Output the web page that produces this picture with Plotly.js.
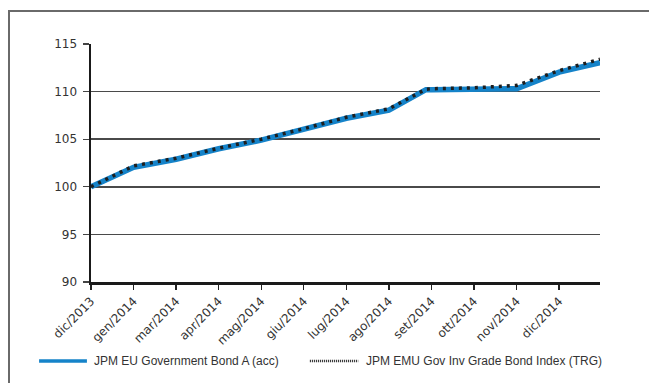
<!DOCTYPE html>
<html>
<head>
<meta charset="utf-8">
<script src="https://cdn.plot.ly/plotly-3.0.1.min.js"></script>
<style>
html,body{margin:0;padding:0;background:#fff;overflow:hidden;width:649px;height:383px;}
#frameTop{position:absolute;left:8px;top:10px;width:641px;height:2px;background:#6a6a6a;z-index:0;}
#frameLeft{position:absolute;left:8px;top:10px;width:2px;height:373px;background:#6a6a6a;z-index:0;}
#chart{position:absolute;left:0;top:0;width:649px;height:383px;z-index:1;}
</style>
</head>
<body>
<div id="frameTop"></div>
<div id="frameLeft"></div>
<div id="chart"></div>
<script>
// x positions measured in units of the labelled tick spacing (0 = dic/2013)
const xPos = [0, 1, 2, 3, 4, 5, 6, 7, 7.87, 8, 9, 10, 11, 11.96];
const fundValues = [100.0, 102.05, 102.9, 104.0, 104.9, 106.0, 107.2, 108.05, 110.2, 110.2, 110.25, 110.3, 112.05, 113.05];
const indexValues = [100.0, 102.2, 103.0, 104.05, 105.0, 106.1, 107.3, 108.2, 110.25, 110.3, 110.4, 110.65, 112.2, 113.4];
const tickPos = [0, 1, 2, 3, 4, 5, 6, 7, 8, 9, 10, 11];
const tickLabels = ['dic/2013', 'gen/2014', 'mar/2014', 'apr/2014', 'mag/2014', 'giu/2014', 'lug/2014', 'ago/2014', 'set/2014', 'ott/2014', 'nov/2014', 'dic/2014'];
const seriesNames = ['JPM EU Government Bond A (acc)', 'JPM EMU Gov Inv Grade Bond Index (TRG)'];
const seriesColors = ['#1583c9', '#1e1e1e'];

const traces = [
  {x: xPos, y: fundValues, name: seriesNames[0], type: 'scatter', mode: 'lines',
   line: {color: seriesColors[0], width: 5.5}},
  {x: xPos, y: indexValues, name: seriesNames[1], type: 'scatter', mode: 'lines',
   line: {color: seriesColors[1], width: 3.5, dash: '3px,5px'}}
];

// manual legend (paper coordinates)
const legY = -0.332;
const legendShapes = [
  {type: 'line', xref: 'paper', yref: 'paper', x0: -0.102, x1: -0.008, y0: legY, y1: legY,
   line: {color: seriesColors[0], width: 3.5}},
  {type: 'line', xref: 'paper', yref: 'paper', x0: 0.430, x1: 0.525, y0: legY, y1: legY,
   line: {color: seriesColors[1], width: 2.5, dash: '1px,1px'}}
];
const legendText = [
  {text: seriesNames[0], xref: 'paper', yref: 'paper', x: 0.002, y: legY, xanchor: 'left', yanchor: 'middle',
   showarrow: false, font: {family: 'Liberation Sans, Arial, sans-serif', size: 12, color: '#333'}},
  {text: seriesNames[1], xref: 'paper', yref: 'paper', x: 0.536, y: legY, xanchor: 'left', yanchor: 'middle',
   showarrow: false, font: {family: 'Liberation Sans, Arial, sans-serif', size: 12, color: '#333'}}
];

const layout = {
  width: 649, height: 383,
  margin: {l: 91, r: 49, t: 44, b: 101},
  paper_bgcolor: 'rgba(0,0,0,0)', plot_bgcolor: 'rgba(0,0,0,0)',
  font: {family: 'DejaVu Sans, sans-serif', size: 12, color: '#333'},
  showlegend: false,
  xaxis: {range: [0, 11.96], tickmode: 'array', tickvals: tickPos, ticktext: tickLabels,
    tickangle: -45, ticks: 'outside', ticklen: 5, tickwidth: 1.3, tickcolor: '#222',
    showgrid: false, zeroline: false, showline: true, linecolor: '#1a1a1a', linewidth: 2.5,
    tickfont: {size: 12, color: '#333'}},
  yaxis: {range: [90, 115], tickmode: 'array', tickvals: [90, 95, 100, 105, 110, 115],
    ticks: 'outside', ticklen: 6, tickwidth: 1.3, tickcolor: '#444', ticklabelstandoff: 3,
    showgrid: true, gridcolor: '#4a4a4a', gridwidth: 1.5, zeroline: false,
    showline: true, linecolor: '#1a1a1a', linewidth: 2.5,
    tickfont: {size: 12, color: '#333'}},
  shapes: legendShapes,
  annotations: legendText
};

Plotly.newPlot('chart', traces, layout, {displayModeBar: false, staticPlot: true});
</script>
</body>
</html>
